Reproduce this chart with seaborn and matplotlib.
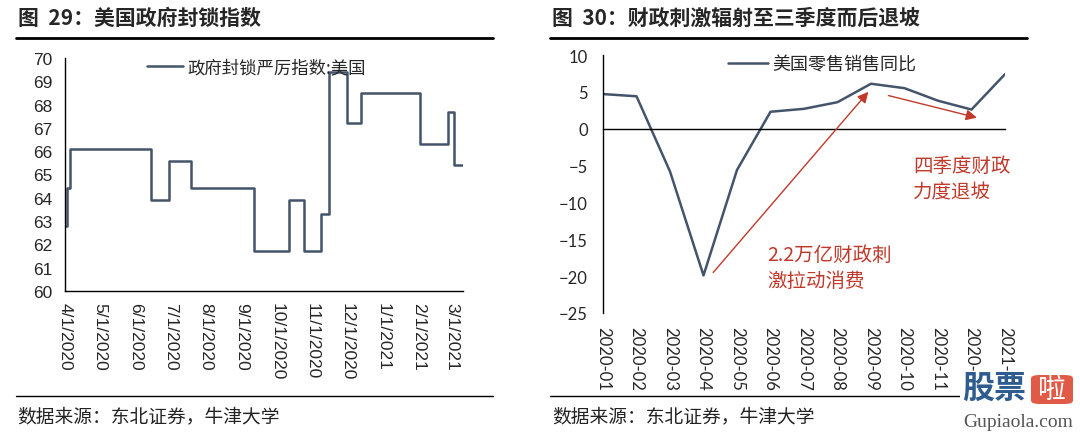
import pandas as pd
import numpy as np
import matplotlib
matplotlib.use("Agg")
import matplotlib.pyplot as plt
from matplotlib.lines import Line2D
from matplotlib.patches import Rectangle, FancyBboxPatch
import seaborn as sns

#left chart: lockdown stringency index, dates where the level changes
lock_dates = ["2020-04-01", "2020-04-03", "2020-04-05", "2020-06-14", "2020-06-30",
              "2020-07-19", "2020-09-11", "2020-10-12", "2020-10-25", "2020-11-08",
              "2020-11-15", "2020-12-01", "2020-12-13", "2021-02-02", "2021-02-26",
              "2021-03-03", "2021-03-11"]
lock_values = [62.8, 64.4, 66.1, 63.9, 65.6, 64.4, 61.7, 63.9, 61.7, 63.3,
               69.4, 67.2, 68.5, 66.3, 67.7, 65.4, 65.4]
lock_label = "政府封锁严厉指数:美国"

#right chart: US retail sales yoy
months = ["2020-01", "2020-02", "2020-03", "2020-04", "2020-05", "2020-06", "2020-07",
          "2020-08", "2020-09", "2020-10", "2020-11", "2020-12", "2021-01"]
retail_yoy = [4.7, 4.4, -5.8, -19.9, -5.6, 2.3, 2.7, 3.6, 6.1, 5.5, 3.8, 2.6, 7.4]
retail_label = "美国零售销售同比"

title_left = "图  29：美国政府封锁指数"
title_right = "图  30：财政刺激辐射至三季度而后退坡"
source = "数据来源：东北证券，牛津大学"

line_color = "#44546A"
red = "#C0392B"
cjk = ["Noto Sans CJK SC", "DejaVu Sans"]

sns.set_theme(style="white")
plt.rcParams["font.family"] = cjk

d_lock = pd.DataFrame({"date": pd.to_datetime(lock_dates), "value": lock_values})
d_retail = pd.DataFrame({"month": np.arange(len(months)), "yoy": retail_yoy})

W, H = 1080, 435
fig = plt.figure(figsize=(W / 100, H / 100), dpi=100)
ax1 = fig.add_axes([65 / W, 1 - 292 / H, 398 / W, 233 / H])
ax2 = fig.add_axes([603 / W, 1 - 314 / H, 402 / W, 258 / H])

#left chart
sns.lineplot(data=d_lock, x="date", y="value", ax=ax1, color=line_color, linewidth=1.8,
             drawstyle="steps-post", label=lock_label)
ax1.set_xlim(d_lock["date"].min(), d_lock["date"].max())
ax1.set_ylim(60, 70)
ax1.set_yticks(range(60, 71))
ticks = pd.date_range("2020-04-01", "2021-03-01", freq="MS")
ax1.set_xticks(ticks)
ax1.set_xticklabels([f"{t.month}/{t.day}/{t.year}" for t in ticks], rotation=-90,
                    family=["Liberation Sans"], fontsize=12.5)
for lab in ax1.get_yticklabels():
    lab.set_family(["Liberation Sans"])
    lab.set_fontsize(12.5)
ax1.set_xlabel("")
ax1.set_ylabel("")
ax1.tick_params(axis="both", direction="out", length=4, width=1, color="black", pad=5)
ax1.tick_params(axis="x", pad=4)
for s in ["top", "right"]:
    ax1.spines[s].set_visible(False)
for s in ["left", "bottom"]:
    ax1.spines[s].set_color("black")
    ax1.spines[s].set_linewidth(1)
ax1.legend(loc="center left", bbox_to_anchor=(147 / W, 1 - 68 / H), bbox_transform=fig.transFigure,
           frameon=False, borderpad=0, borderaxespad=0, handlelength=2.1, handletextpad=0.25,
           prop={"family": cjk, "size": 12.5})

#right chart
sns.lineplot(data=d_retail, x="month", y="yoy", ax=ax2, color=line_color, linewidth=1.8,
             label=retail_label)
ax2.set_xlim(0, len(months) - 1)
ax2.set_ylim(-25, 10)
ax2.set_yticks(range(-25, 11, 5))
for lab in ax2.get_yticklabels():
    lab.set_family(["Lato"])
    lab.set_fontsize(12)
ax2.set_xticks(d_retail["month"])
ax2.set_xticklabels([""] * len(months))
#labels sit low (below -25); the last two are partly hidden by the watermark
label_clip = Rectangle((0, 1 - 374 / H), 1, 374 / H, transform=fig.transFigure)
for i, m in enumerate(months):
    t = ax2.text(i, -0.05, m, transform=ax2.get_xaxis_transform(), rotation=-90,
                 ha="center", va="top", family=["Lato"], fontsize=12)
    if i >= len(months) - 2:
        t.set_clip_on(True)
        t.set_clip_path(label_clip)
ax2.set_xlabel("")
ax2.set_ylabel("")
ax2.spines["bottom"].set_position(("data", 0))
ax2.tick_params(axis="both", direction="out", length=4, width=1, color="black", pad=7)
for s in ["top", "right"]:
    ax2.spines[s].set_visible(False)
for s in ["left", "bottom"]:
    ax2.spines[s].set_color("black")
    ax2.spines[s].set_linewidth(1)
ax2.legend(loc="center left", bbox_to_anchor=(728 / W, 1 - 65 / H), bbox_transform=fig.transFigure,
           frameon=False, borderpad=0, borderaxespad=0, handlelength=2.2, handletextpad=0.25,
           prop={"family": cjk, "size": 13})

#annotations
arrow = dict(arrowstyle="-|>", color=red, lw=1, mutation_scale=16, shrinkA=0, shrinkB=0)
ax2.annotate("", xy=(7.92, 5.0), xytext=(3.29, -19.5), arrowprops=arrow)
ax2.annotate("", xy=(11.16, 1.5), xytext=(8.52, 4.5), arrowprops=arrow)
ax2.text(4.9, -15.6, "2.2万亿财政刺\n激拉动消费", color=red, fontsize=14, va="top", ha="left",
         linespacing=1.35)
ax2.text(9.25, -3.5, "四季度财政\n力度退坡", color=red, fontsize=14, va="top", ha="left",
         linespacing=1.35)

#titles, rules and source lines
for x0, x1, t in [(16, 493, title_left), (550, 1027, title_right)]:
    fig.text((x0 + 2) / W, 1 - 18 / H, t, fontsize=15, fontweight="bold", va="center", ha="left")
    fig.add_artist(Line2D([x0 / W, x1 / W], [1 - 39 / H] * 2, color="black", lw=2))
fig.add_artist(Line2D([16 / W, 493 / W], [1 - 397 / H] * 2, color="black", lw=1))
fig.add_artist(Line2D([550 / W, 1027 / W], [1 - 397 / H] * 2, color="black", lw=1))
fig.text(17 / W, 1 - 417 / H, source, fontsize=13.5, va="center", ha="left", color="#222222")
fig.text(552 / W, 1 - 417 / H, source, fontsize=13.5, va="center", ha="left", color="#222222")

#watermark
fig.add_artist(Rectangle((960 / W, 0), 120 / W, 61 / H, transform=fig.transFigure,
                         facecolor="white", edgecolor="none", zorder=5))
fig.text(962 / W, 1 - 389 / H, "股票", fontsize=23, fontweight="bold", color="#2F5C8F",
         va="center", ha="left", zorder=6)
fig.add_artist(FancyBboxPatch((1031 / W, 1 - 405 / H), 42 / W, 29 / H, transform=fig.transFigure,
                              boxstyle="round,pad=0,rounding_size=0.008", facecolor="#E05A47",
                              edgecolor="none", zorder=6))
fig.text(1052 / W, 1 - 390 / H, "啦", fontsize=20, color="white", va="center", ha="center", zorder=7)
fig.text(963 / W, 1 - 423 / H, "Gupiaola.com", fontsize=14, family=["Liberation Serif"],
         color="#555555", va="center", ha="left", zorder=6)

plt.savefig("out.png", dpi=100)
